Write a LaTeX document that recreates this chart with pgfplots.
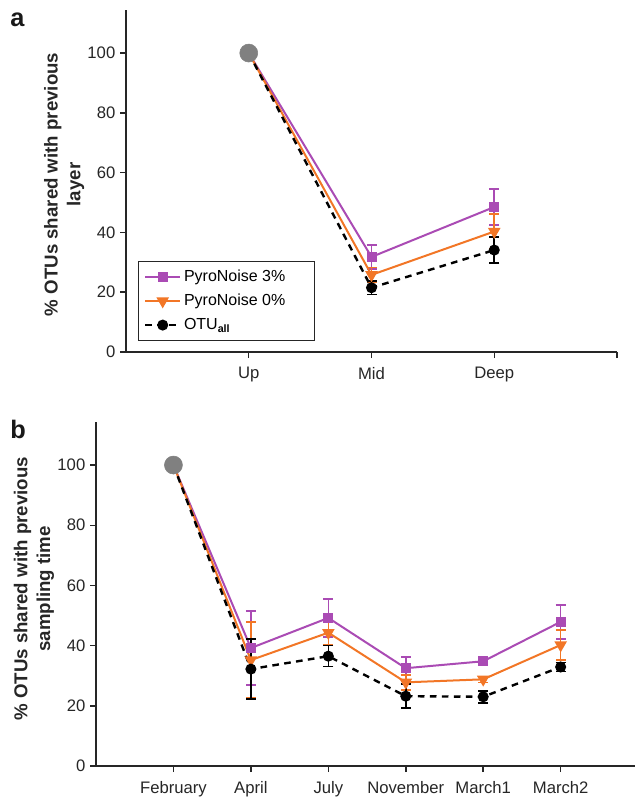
\documentclass[border=0pt]{standalone}
\usepackage{pgfplots}
\pgfplotsset{compat=1.18}
\usepackage{fontspec}
\setmainfont{Liberation Sans}
\definecolor{cpurple}{RGB}{170,75,180}
\definecolor{corange}{RGB}{242,118,38}
\definecolor{cgrey}{RGB}{128,128,128}

\pgfplotsset{
 mystyle/.style={
   scale only axis,
   clip=false,
   enlargelimits=false,
   axis x line*=bottom, axis y line*=left,
   axis line style={line width=1.1pt, black!85, -},
   tick align=outside,
   major tick length=4.5pt,
   tick style={line width=1.1pt, black!85},
   ymin=0, ytick={0,20,...,100},
   xmin=0,
   /pgf/number format/assume math mode=true,
   tick label style={font=\fontsize{12.5}{15}\selectfont, text=black!85},
   xticklabel style={yshift=-3.5pt},
   ylabel style={font=\bfseries\fontsize{14}{17}\selectfont, align=center, text=black!85},
   error bars/error bar style={solid, line width=1.2pt},
   error bars/error mark options={rotate=90, mark size=3.75pt, line width=1.2pt, solid},
   legend image code/.code={
     \draw[mark repeat=2,mark phase=2,##1] plot coordinates {(0cm,0cm) (0.46cm,0cm) (0.92cm,0cm)};
   },
 },
 p3/.style={cpurple, line width=1.5pt, mark=square*, mark size=3pt, mark options={solid}},
 p0/.style={corange, line width=1.5pt, mark=triangle*, mark size=4pt, mark options={solid, rotate=180}},
 pall/.style={black, line width=1.8pt, dash pattern=on 5pt off 4pt, mark=*, mark size=3.2pt, mark options={solid}},
}

\begin{document}
\begin{tikzpicture}
\useasboundingbox (0,0) rectangle (476.25pt,-598.5pt);

\node[font=\bfseries\fontsize{19}{22}\selectfont, text=black!90] at (13pt,-15pt) {a};
\node[font=\bfseries\fontsize{19}{22}\selectfont, text=black!90] at (13.5pt,-322pt) {b};

% Panel a
\begin{axis}[mystyle,
  at={(94.5pt,-264pt)}, anchor=south west,
  width=368.25pt, height=256.5pt,
  xmax=4, ymax=114.4,
  xtick={1,2,3,4}, xticklabels={Up,Mid,Deep,{}},
  ylabel={\% OTUs shared with previous\\layer},
  ylabel style={at={(axis description cs:-0.126,0.49)}, anchor=center},
  legend style={at={(axis description cs:0.0244,0.032)}, anchor=south west,
     draw=black!85, line width=1.1pt, font=\fontsize{12}{14}\selectfont,
     inner xsep=4pt, inner ysep=4.5pt, row sep=4pt},
  legend cell align=left,
]
\addplot[p3, error bars/.cd, y dir=both, y explicit] table[x=x, y=y, y error=e] {
x y e
1 100 0
2 31.8 4
3 48.5 6
};
\addlegendentry{\makebox[92pt][l]{PyroNoise 3\%}}
\addplot[p0, error bars/.cd, y dir=both, y explicit] table[x=x, y=y, y error=e] {
x y e
1 100 0
2 25.8 2.5
3 40.3 5.8
};
\addlegendentry{PyroNoise 0\%}
\addplot[pall, error bars/.cd, y dir=both, y explicit] table[x=x, y=y, y error=e] {
x y e
1 100 0
2 21.5 2.3
3 34.1 4.3
};
\addlegendentry{OTU\textsubscript{\bfseries all}}
\addplot[only marks, mark=*, mark size=6.75pt, cgrey, forget plot] coordinates {(1,100)};
\end{axis}

% Panel b
\begin{axis}[mystyle,
  at={(72pt,-574.5pt)}, anchor=south west,
  width=404.25pt, height=258pt,
  xmax=6.96, ymax=114.3,
  xtick={1,2,3,4,5,6}, xticklabels={February,April,July,November,March1,March2},
  ylabel={\% OTUs shared with previous\\sampling time},
  ylabel style={at={(axis description cs:-0.115,0.515)}, anchor=center},
]
\addplot[p3, error bars/.cd, y dir=both, y explicit] table[x=x, y=y, y error=e] {
x y e
1 100 0
2 39.2 12.3
3 49.2 6.3
4 32.5 3.8
5 34.8 1
6 47.9 5.6
};
\addplot[p0, error bars/.cd, y dir=both, y explicit] table[x=x, y=y, y error=e] {
x y e
1 100 0
2 35.2 12.7
3 44.3 4
4 27.8 2.5
5 28.8 1
6 40.2 5
};
\addplot[pall, error bars/.cd, y dir=both, y explicit] table[x=x, y=y, y error=e] {
x y e
1 100 0
2 32.2 10
3 36.5 3.5
4 23.2 4
5 23 2
6 32.9 1.5
};
\addplot[only marks, mark=*, mark size=6.75pt, cgrey] coordinates {(1,100)};
\end{axis}
\end{tikzpicture}
\end{document}
